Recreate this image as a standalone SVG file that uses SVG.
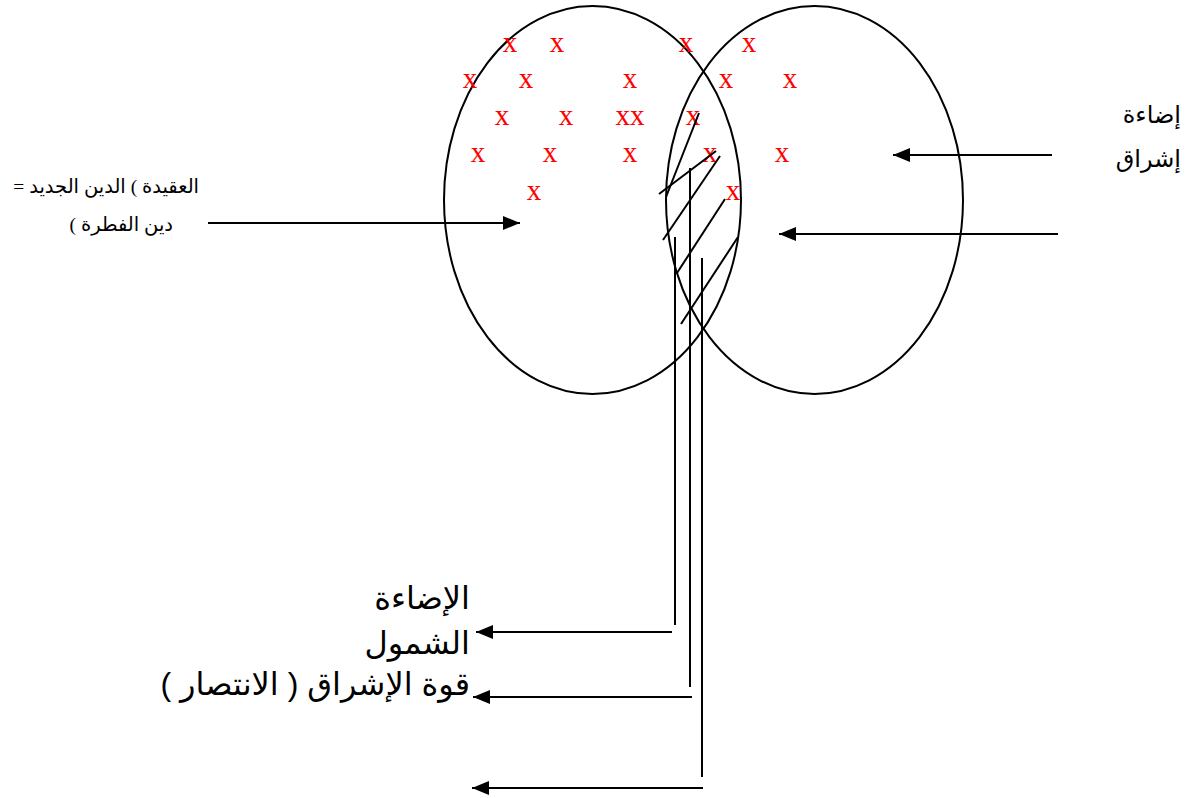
<svg xmlns="http://www.w3.org/2000/svg" width="1191" height="798" viewBox="0 0 1191 798">
<style>
.ell{fill:none;stroke:#000;stroke-width:2}
.ln{fill:none;stroke:#000;stroke-width:2}
.arr{fill:none;stroke:#000;stroke-width:2;marker-end:url(#ah)}
.x{font-family:"Liberation Serif","Times New Roman",serif;font-size:29px;fill:#ff0000;text-anchor:middle}
.ar{font-family:"Liberation Sans","DejaVu Sans",sans-serif;font-size:24px;fill:#000;direction:rtl;text-anchor:start}
.arb{font-family:"Liberation Sans","DejaVu Sans",sans-serif;font-size:32px;fill:#000;direction:rtl;text-anchor:start}
.ars{font-family:"Liberation Serif","DejaVu Serif","DejaVu Sans",serif;font-size:19.5px;fill:#000;direction:rtl;text-anchor:start}
</style>
<defs>
<marker id="ah" markerUnits="userSpaceOnUse" markerWidth="18" markerHeight="14" refX="17" refY="7" orient="auto">
<path d="M0,0 L17,7 L0,14 z" fill="#000"/>
</marker>
</defs>
<rect width="1191" height="798" fill="#fff"/>
<g id="circle-left"><ellipse class="ell" cx="592.5" cy="200" rx="148.5" ry="194"/></g>
<g id="circle-right"><ellipse class="ell" cx="814.5" cy="200" rx="148.5" ry="194"/></g>
<g id="marks">
<text class="x" x="510" y="52">x</text>
<text class="x" x="557" y="52">x</text>
<text class="x" x="686" y="52">x</text>
<text class="x" x="749" y="52">x</text>
<text class="x" x="470" y="88">x</text>
<text class="x" x="526" y="88">x</text>
<text class="x" x="630" y="88">x</text>
<text class="x" x="726" y="88">x</text>
<text class="x" x="790" y="88">x</text>
<text class="x" x="502" y="125">x</text>
<text class="x" x="566" y="125">x</text>
<text class="x" x="630" y="125">xx</text>
<text class="x" x="693" y="125">x</text>
<text class="x" x="478" y="162">x</text>
<text class="x" x="550" y="162">x</text>
<text class="x" x="630" y="162">x</text>
<text class="x" x="710" y="162">x</text>
<text class="x" x="782" y="162">x</text>
<text class="x" x="534" y="200">x</text>
<text class="x" x="733" y="200">x</text>
</g>
<g id="hatch">
<line class="ln" x1="699" y1="113" x2="666" y2="197"/>
<line class="ln" x1="716" y1="151" x2="659" y2="194"/>
<line class="ln" x1="720" y1="156" x2="663" y2="240"/>
<line class="ln" x1="725" y1="199" x2="677" y2="273"/>
<line class="ln" x1="738" y1="237" x2="681" y2="324"/>
</g>
<g id="label-aqida">
<text class="ars" x="199" y="193">العقيدة &#x200E;(&#x200E; الدين الجديد =</text>
<text class="ars" x="173" y="231">دين الفطرة &#x200E;)</text>
</g>
<g id="label-idaa-ishraq">
<text class="ar" x="1181" y="123">إضاءة</text>
<text class="ar" x="1181" y="167">إشراق</text>
</g>
<g id="label-bottom">
<text class="arb" x="470" y="609">الإضاءة</text>
<text class="arb" x="470" y="654">الشمول</text>
<text class="arb" x="470" y="695">قوة الإشراق &#x200E;(&#x200E; الانتصار &#x200E;)</text>
</g>
<g id="connectors">
<line class="arr" x1="208" y1="223" x2="520" y2="223"/>
<line class="arr" x1="1052" y1="155" x2="893" y2="155"/>
<line class="arr" x1="1058" y1="234" x2="779" y2="234"/>
<line class="ln" x1="675" y1="237" x2="675" y2="625"/>
<line class="ln" x1="690" y1="168" x2="690" y2="687"/>
<line class="ln" x1="702" y1="258" x2="702" y2="777"/>
<line class="arr" x1="672" y1="632" x2="476" y2="632"/>
<line class="arr" x1="692" y1="697" x2="473" y2="697"/>
<line class="arr" x1="703" y1="788" x2="472" y2="788"/>
</g>
</svg>
